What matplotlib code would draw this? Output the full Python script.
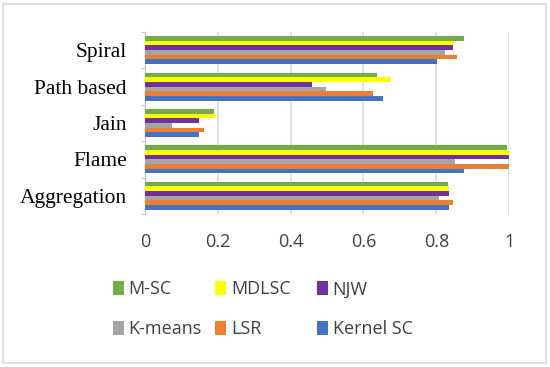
import numpy as np
import matplotlib
matplotlib.use('Agg')
import matplotlib.pyplot as plt
from matplotlib.patches import Rectangle

categories = ["Aggregation", "Flame", "Jain", "Path based", "Spiral"]
series = ["Kernel SC", "LSR", "K-means", "NJW", "MDLSC", "M-SC"]
colors = ["#4472c4", "#ed7d31", "#a5a5a5", "#7030a0", "#ffff00", "#70ad47"]

kernel_sc = [0.834, 0.876, 0.148, 0.654, 0.802]
lsr = [0.847, 1.0, 0.163, 0.625, 0.857]
kmeans = [0.807, 0.851, 0.073, 0.498, 0.823]
njw = [0.836, 1.0, 0.149, 0.458, 0.846]
mdlsc = [0.836, 1.0, 0.196, 0.675, 0.848]
msc = [0.832, 0.993, 0.189, 0.637, 0.877]
values = [kernel_sc, lsr, kmeans, njw, mdlsc, msc]

fig = plt.figure(figsize=(5.5, 3.67), dpi=100, facecolor='white')
ax = fig.add_axes([0.2636, 0.417, 0.662, 0.496])

y = np.arange(len(categories))
h = 0.77 / len(series)
bars = {}
for i, (name, vals, c) in enumerate(zip(series, values, colors)):
    bars[name] = ax.barh(y - 0.385 + h * (i + 0.5), vals, height=h, color=c, label=name, zorder=3)

ax.set_xlim(0, 1)
ax.set_ylim(-0.5, len(categories) - 0.5)
ax.set_xticks([0, 0.2, 0.4, 0.6, 0.8, 1.0])
ax.set_xticklabels(["0", "0.2", "0.4", "0.6", "0.8", "1"], fontfamily="Open Sans", fontsize=13, color="#404040")
ax.set_yticks(y)
ax.set_yticklabels(categories, fontfamily="Liberation Serif", fontsize=15.5, color="#000000")
ax.set_yticks(np.arange(-0.5, len(categories)), minor=True)
ax.tick_params(axis='y', which='major', length=0, pad=13)
ax.tick_params(axis='y', which='minor', length=3, color="#bfbfbf", direction='out')
ax.tick_params(axis='x', length=0, pad=14)
ax.grid(axis='x', color="#d9d9d9", linewidth=1.2, zorder=0)
for s in ["top", "right", "bottom"]:
    ax.spines[s].set_visible(False)
ax.spines["left"].set_color("#bfbfbf")

# legend: three columns, each a separate legend so columns are evenly spaced
legend_cols = [["M-SC", "K-means"], ["MDLSC", "LSR"], ["NJW", "Kernel SC"]]
col_x = [0.205, 0.391, 0.576]
for names, x0 in zip(legend_cols, col_x):
    leg = fig.legend([bars[n] for n in names], names, loc="upper left",
                     bbox_to_anchor=(x0, 0.236), frameon=False,
                     prop={"family": "Open Sans", "size": 13},
                     handlelength=0.62, handleheight=0.8, handletextpad=0.25,
                     labelspacing=1.22, borderpad=0, borderaxespad=0)
    for t in leg.get_texts():
        t.set_color("#404040")

fig.patches.append(Rectangle((0.006, 0.01), 0.986, 0.98, transform=fig.transFigure,
                             fill=False, edgecolor="#d9d9d9", linewidth=1.2))

fig.savefig("out.png", dpi=100)
